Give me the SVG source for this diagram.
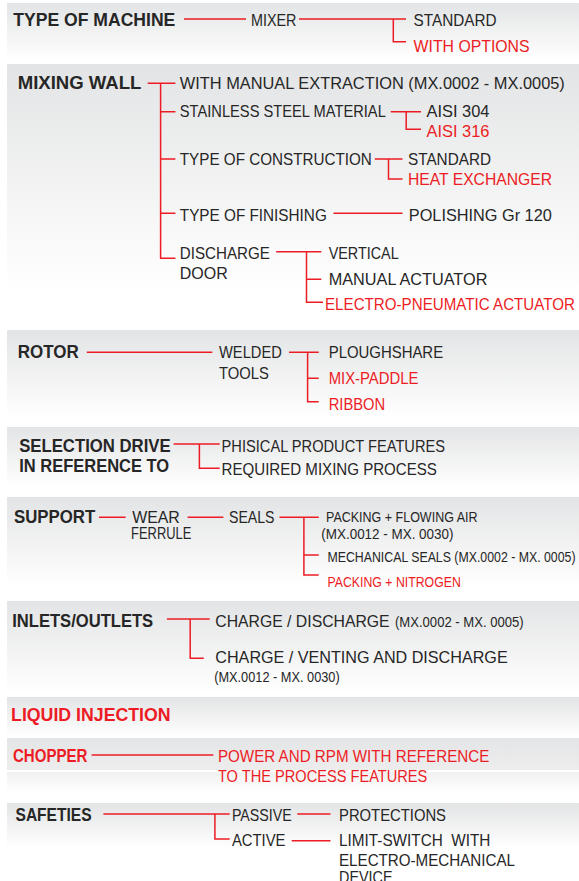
<svg xmlns="http://www.w3.org/2000/svg" width="579" height="881" viewBox="0 0 579 881">
<defs>
<linearGradient id="pg" x1="0" y1="0" x2="0" y2="1">
<stop offset="0" stop-color="#e3e4e5"/>
<stop offset="1" stop-color="#ffffff"/>
</linearGradient>
<linearGradient id="pg2" x1="0" y1="0" x2="0" y2="1">
<stop offset="0" stop-color="#e4e5e6"/>
<stop offset="1" stop-color="#ededee"/>
</linearGradient>
<linearGradient id="pg3" x1="0" y1="0" x2="0" y2="1">
<stop offset="0" stop-color="#f1f1f2"/>
<stop offset="1" stop-color="#ffffff"/>
</linearGradient>
</defs>
<style>
text{font-family:"Liberation Sans",Arial,sans-serif;fill:#262626;font-size:16.5px}
.h{font-weight:bold;font-size:17.5px}
.r{fill:#ed1c24}
.s{font-size:15px}
.xs{font-size:14px}
.c path{fill:none;stroke:#ed1c24;stroke-width:1.5}
</style>
<rect width="579" height="881" fill="#ffffff"/>
<g id="panels">
<rect x="7" y="3" width="572" height="57" fill="url(#pg)"/>
<rect x="7" y="64" width="572" height="226" fill="url(#pg)"/>
<rect x="7" y="330" width="572" height="88" fill="url(#pg)"/>
<rect x="7" y="427" width="572" height="60" fill="url(#pg)"/>
<rect x="7" y="497" width="572" height="90" fill="url(#pg)"/>
<rect x="7" y="601" width="572" height="92" fill="url(#pg)"/>
<rect x="7" y="697" width="572" height="40" fill="url(#pg)"/>
<rect x="7" y="738" width="572" height="32" fill="url(#pg2)"/>
<rect x="7" y="772" width="572" height="21" fill="url(#pg3)"/>
<rect x="7" y="803" width="572" height="45" fill="url(#pg)"/>
</g>
<g id="connectors" class="c">
<path d="M184 19H246M299 19H406M393.3 19V41.7H406"/>
<path d="M147.7 83.3H175.4M160.6 83.3V258.3H175.4M160.6 111.7H175.4M160.6 159H175.4M160.6 213.3H175.4"/>
<path d="M390.7 111.7H421M406.2 111.7V129.3H421"/>
<path d="M374.8 159H402.5M388.5 159V179H402.5"/>
<path d="M333.5 213.3H402.5"/>
<path d="M276.2 251.7H321.3M306.5 251.7V302.3H323M306.5 279.3H321.3"/>
<path d="M86.8 352.3H212.3M289.1 352.3H318.7M307.6 352.3V401.7H318.7M307.6 378.3H318.7"/>
<path d="M173.6 444H219.7M199.4 444V468.3H219.7"/>
<path d="M99 517.3H125.6M187.6 517.3H223.4M279.5 517.3H318.7M303.9 517.3V575H318.7M303.9 555H318.7"/>
<path d="M166.9 619H209.7M190.2 619V658.3H203.8"/>
<path d="M91.6 755H213.4"/>
<path d="M103.4 814H229.7M214.9 814V839H229.7M297.3 814H330.5M291.7 840.7H330.5"/>
</g>
<g id="n-type-of-machine"><text class="h" x="13.3" y="26" textLength="162" lengthAdjust="spacingAndGlyphs">TYPE OF MACHINE</text></g>
<g id="n-mixer"><text x="251" y="26" textLength="45.5" lengthAdjust="spacingAndGlyphs">MIXER</text></g>
<g id="n-standard1"><text x="413.6" y="26" textLength="83" lengthAdjust="spacingAndGlyphs">STANDARD</text></g>
<g id="n-with-options"><text class="r" x="413.6" y="51.5" textLength="116" lengthAdjust="spacingAndGlyphs">WITH OPTIONS</text></g>

<g id="n-mixing-wall"><text class="h" x="17.7" y="89.3" textLength="123.7" lengthAdjust="spacingAndGlyphs">MIXING WALL</text></g>
<g id="n-manual-extraction"><text x="179.8" y="89.3" textLength="385" lengthAdjust="spacingAndGlyphs">WITH MANUAL EXTRACTION (MX.0002 - MX.0005)</text></g>
<g id="n-stainless"><text x="179.8" y="116.7" textLength="206" lengthAdjust="spacingAndGlyphs">STAINLESS STEEL MATERIAL</text></g>
<g id="n-aisi304"><text x="426.5" y="116.7" textLength="63" lengthAdjust="spacingAndGlyphs">AISI 304</text></g>
<g id="n-aisi316"><text class="r" x="426.5" y="136.7" textLength="63" lengthAdjust="spacingAndGlyphs">AISI 316</text></g>
<g id="n-construction"><text x="179.8" y="165" textLength="192" lengthAdjust="spacingAndGlyphs">TYPE OF CONSTRUCTION</text></g>
<g id="n-standard2"><text x="408" y="165" textLength="83" lengthAdjust="spacingAndGlyphs">STANDARD</text></g>
<g id="n-heat-exchanger"><text class="r" x="408" y="185" textLength="144" lengthAdjust="spacingAndGlyphs">HEAT EXCHANGER</text></g>
<g id="n-finishing"><text x="179.8" y="220.7" textLength="147" lengthAdjust="spacingAndGlyphs">TYPE OF FINISHING</text></g>
<g id="n-polishing"><text x="408.8" y="220.7" textLength="143" lengthAdjust="spacingAndGlyphs">POLISHING Gr 120</text></g>
<g id="n-discharge-door"><text x="179.8" y="259" textLength="90" lengthAdjust="spacingAndGlyphs">DISCHARGE</text><text x="179.8" y="279" textLength="48" lengthAdjust="spacingAndGlyphs">DOOR</text></g>
<g id="n-vertical"><text x="328.7" y="259" textLength="70" lengthAdjust="spacingAndGlyphs">VERTICAL</text></g>
<g id="n-manual-actuator"><text x="328.7" y="285" textLength="158.7" lengthAdjust="spacingAndGlyphs">MANUAL ACTUATOR</text></g>
<g id="n-electro-pneumatic"><text class="r" x="325" y="310" textLength="250" lengthAdjust="spacingAndGlyphs">ELECTRO-PNEUMATIC ACTUATOR</text></g>

<g id="n-rotor"><text class="h" x="17.7" y="358.3" textLength="61" lengthAdjust="spacingAndGlyphs">ROTOR</text></g>
<g id="n-welded-tools"><text x="219" y="358.3" textLength="62.8" lengthAdjust="spacingAndGlyphs">WELDED</text><text x="219" y="379" textLength="49.8" lengthAdjust="spacingAndGlyphs">TOOLS</text></g>
<g id="n-ploughshare"><text x="328.7" y="358.3" textLength="114.4" lengthAdjust="spacingAndGlyphs">PLOUGHSHARE</text></g>
<g id="n-mix-paddle"><text class="r" x="328.7" y="384" textLength="89.7" lengthAdjust="spacingAndGlyphs">MIX-PADDLE</text></g>
<g id="n-ribbon"><text class="r" x="328.7" y="410" textLength="56.5" lengthAdjust="spacingAndGlyphs">RIBBON</text></g>

<g id="n-selection-drive"><text class="h" x="19.2" y="451.7" textLength="151.4" lengthAdjust="spacingAndGlyphs">SELECTION DRIVE</text><text class="h" x="19.2" y="472.3" textLength="150" lengthAdjust="spacingAndGlyphs">IN REFERENCE TO</text></g>
<g id="n-phisical"><text x="221.6" y="451.7" textLength="223.4" lengthAdjust="spacingAndGlyphs">PHISICAL PRODUCT FEATURES</text></g>
<g id="n-required"><text x="221.6" y="475" textLength="215.3" lengthAdjust="spacingAndGlyphs">REQUIRED MIXING PROCESS</text></g>

<g id="n-support"><text class="h" x="14" y="523.3" textLength="81.3" lengthAdjust="spacingAndGlyphs">SUPPORT</text></g>
<g id="n-wear-ferrule"><text x="132.2" y="523.3" textLength="47.6" lengthAdjust="spacingAndGlyphs">WEAR</text><text x="131.1" y="539.3" textLength="60.2" lengthAdjust="spacingAndGlyphs">FERRULE</text></g>
<g id="n-seals"><text x="229" y="523.3" textLength="45.4" lengthAdjust="spacingAndGlyphs">SEALS</text></g>
<g id="n-packing-air"><text class="s" x="326" y="522.3" textLength="151.5" lengthAdjust="spacingAndGlyphs">PACKING + FLOWING AIR</text><text class="xs" x="321.3" y="538.5" textLength="132.2" lengthAdjust="spacingAndGlyphs">(MX.0012 - MX. 0030)</text></g>
<g id="n-mechanical-seals"><text class="s" x="327.5" y="561.7" textLength="248" lengthAdjust="spacingAndGlyphs">MECHANICAL SEALS (MX.0002 - MX. 0005)</text></g>
<g id="n-packing-nitrogen"><text class="s r" x="327.5" y="586.7" textLength="133.3" lengthAdjust="spacingAndGlyphs">PACKING + NITROGEN</text></g>

<g id="n-inlets"><text class="h" x="12.2" y="626.7" textLength="141" lengthAdjust="spacingAndGlyphs">INLETS/OUTLETS</text></g>
<g id="n-charge-discharge"><text x="215.3" y="626.7" textLength="174.3" lengthAdjust="spacingAndGlyphs">CHARGE / DISCHARGE</text><text class="xs" x="395" y="626.7" textLength="128.6" lengthAdjust="spacingAndGlyphs">(MX.0002 - MX. 0005)</text></g>
<g id="n-charge-venting"><text x="215.3" y="663.3" textLength="292.4" lengthAdjust="spacingAndGlyphs">CHARGE / VENTING AND DISCHARGE</text><text class="xs" x="214.2" y="682" textLength="125.5" lengthAdjust="spacingAndGlyphs">(MX.0012 - MX. 0030)</text></g>

<g id="n-liquid-injection"><text class="h r" x="11.1" y="721" textLength="159.5" lengthAdjust="spacingAndGlyphs">LIQUID INJECTION</text></g>

<g id="n-chopper"><text class="h r" x="12.9" y="761.7" textLength="74.6" lengthAdjust="spacingAndGlyphs">CHOPPER</text></g>
<g id="n-power-rpm"><text class="r" x="217.9" y="761.7" textLength="271.4" lengthAdjust="spacingAndGlyphs">POWER AND RPM WITH REFERENCE</text><text class="r" x="217.9" y="782.3" textLength="209.4" lengthAdjust="spacingAndGlyphs">TO THE PROCESS FEATURES</text></g>

<g id="n-safeties"><text class="h" x="15.5" y="820.7" textLength="76.1" lengthAdjust="spacingAndGlyphs">SAFETIES</text></g>
<g id="n-passive"><text x="231.9" y="820.7" textLength="59.8" lengthAdjust="spacingAndGlyphs">PASSIVE</text></g>
<g id="n-protections"><text x="339" y="820.7" textLength="107" lengthAdjust="spacingAndGlyphs">PROTECTIONS</text></g>
<g id="n-active"><text x="231.9" y="846" textLength="53.6" lengthAdjust="spacingAndGlyphs">ACTIVE</text></g>
<g id="n-limit-switch"><text x="339" y="846" textLength="151.4" lengthAdjust="spacingAndGlyphs">LIMIT-SWITCH&#160; WITH</text><text x="339" y="866" textLength="176" lengthAdjust="spacingAndGlyphs">ELECTRO-MECHANICAL</text><text x="339" y="882.5" textLength="53.5" lengthAdjust="spacingAndGlyphs">DEVICE</text></g>
</svg>
